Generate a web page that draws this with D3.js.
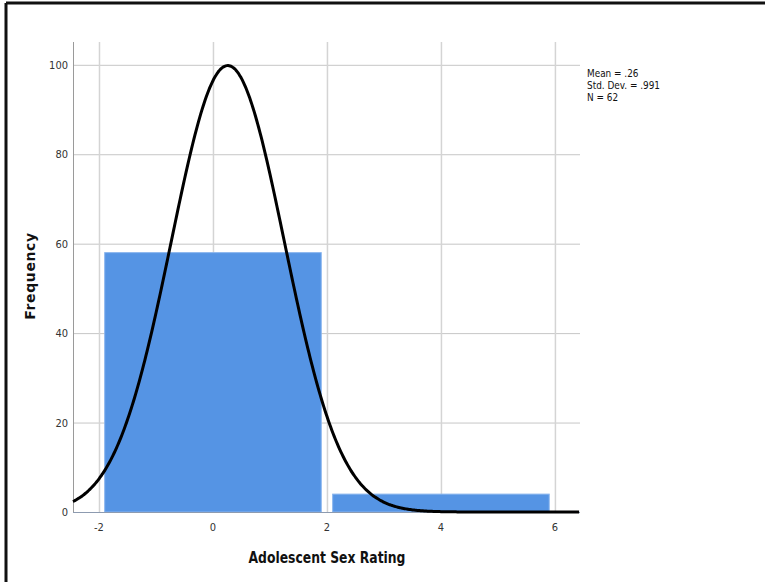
<!DOCTYPE html>
<html>
<head>
<meta charset="utf-8">
<script src="https://cdn.jsdelivr.net/npm/d3@7"></script>
<style>
  body { margin: 0; background: #fff; }
  svg { display: block; }
  .narrow { font-family: "DejaVu Sans Condensed", "Liberation Sans Narrow", sans-serif; font-stretch: condensed; }
</style>
</head>
<body>
<script>
// histogram bins (edges) and counts
const binStarts = [-2, 2];
const binEnds = [2, 6];
const binCounts = [58, 4];

const xTicks = [-2, 0, 2, 4, 6];
const yTicks = [0, 20, 40, 60, 80, 100];

const statLines = ["Mean = .26", "Std. Dev. = .991", "N = 62"];
const mean = 0.26, sd = 0.991, n = 62;

const width = 765, height = 582;
const margin = {top: 42, right: 185, bottom: 70, left: 73};

const svg = d3.select('body').append('svg')
    .attr('width', width)
    .attr('height', height);

// outer frame (only top and left edges are in view)
svg.append('line').attr('x1', 6).attr('x2', 6).attr('y1', 3).attr('y2', height)
    .style('stroke', '#111').style('stroke-width', 3);
svg.append('line').attr('x1', 6).attr('x2', width).attr('y1', 3).attr('y2', 3)
    .style('stroke', '#111').style('stroke-width', 3);

const x = d3.scaleLinear()
    .domain([-2.456, 6.44])
    .range([margin.left, width - margin.right]);

const y = d3.scaleLinear()
    .domain([0, 105.1])
    .range([height - margin.bottom, margin.top]);

const g = svg.append('g');

// grid
g.selectAll('line.hgrid')
    .data(yTicks)
  .enter().append('line')
    .attr('class', 'hgrid')
    .attr('x1', x.range()[0]).attr('x2', x.range()[1])
    .attr('y1', d => y(d) + 0.5).attr('y2', d => y(d) + 0.5)
    .style('stroke', '#c6c6c6').style('stroke-width', 1);

g.selectAll('line.vgrid')
    .data(xTicks)
  .enter().append('line')
    .attr('class', 'vgrid')
    .attr('x1', d => x(d) + 0.5).attr('x2', d => x(d) + 0.5)
    .attr('y1', y.range()[0]).attr('y2', y.range()[1])
    .style('stroke', '#d4d4d4').style('stroke-width', 1.5);

// bars
const gap = 0.1;
g.selectAll('rect.bar')
    .data(binCounts)
  .enter().append('rect')
    .attr('class', 'bar')
    .attr('x', (d, i) => x(binStarts[i] + gap))
    .attr('width', (d, i) => x(binEnds[i] - gap) - x(binStarts[i] + gap))
    .attr('y', d => y(d))
    .attr('height', d => y(0) - y(d))
    .style('fill', '#5594e4')
    .style('stroke', '#8ab5ee')
    .style('stroke-width', 1);

// axes lines
g.append('line')
    .attr('x1', x.range()[0] + 0.5).attr('x2', x.range()[0] + 0.5)
    .attr('y1', y.range()[1]).attr('y2', y.range()[0])
    .style('stroke', '#9a9a9a');
g.append('line')
    .attr('x1', x.range()[0]).attr('x2', x.range()[1])
    .attr('y1', y(0) + 0.5).attr('y2', y(0) + 0.5)
    .style('stroke', '#8d9bb0');

// tick labels
g.selectAll('text.ylab')
    .data(yTicks)
  .enter().append('text')
    .attr('class', 'narrow')
    .attr('x', x.range()[0] - 5)
    .attr('y', d => y(d) + 4)
    .attr('text-anchor', 'end')
    .style('font-size', '11px')
    .style('fill', '#333')
    .text(d => d);

g.selectAll('text.xlab')
    .data(xTicks)
  .enter().append('text')
    .attr('class', 'narrow')
    .attr('x', d => x(d))
    .attr('y', y(0) + 19)
    .attr('text-anchor', 'middle')
    .style('font-size', '11px')
    .style('fill', '#333')
    .text(d => d < 0 ? '-' + Math.abs(d) : d);

// fitted normal curve
const dens = v => n * (binEnds[0] - binStarts[0]) *
    Math.exp(-0.5 * Math.pow((v - mean) / sd, 2)) / (sd * Math.sqrt(2 * Math.PI));
const line = d3.line()
    .x(d => x(d))
    .y(d => y(dens(d)))
    .curve(d3.curveBasis);
g.append('path')
    .datum(d3.range(x.domain()[0], x.domain()[1] + 0.001, 0.02))
    .attr('d', line)
    .style('fill', 'none')
    .style('stroke', '#000')
    .style('stroke-width', 3);

// stats
svg.append('g')
    .attr('transform', 'translate(587,0) scale(0.9,1)')
  .selectAll('text')
    .data(statLines)
  .enter().append('text')
    .attr('class', 'narrow')
    .attr('x', 0)
    .attr('y', (d, i) => 77 + i * 12)
    .style('font-size', '11px')
    .style('fill', '#111')
    .text(d => d);

// axis titles
svg.append('text')
    .attr('class', 'narrow')
    .attr('transform', 'translate(327,563) scale(0.86,1)')
    .attr('text-anchor', 'middle')
    .style('font-size', '16px')
    .style('font-weight', 'bold')
    .style('fill', '#111')
    .text('Adolescent Sex Rating');

svg.append('text')
    .attr('transform', 'translate(35,276) rotate(-90)')
    .attr('text-anchor', 'middle')
    .style('font-family', '"DejaVu Sans", sans-serif')
    .style('font-size', '14px')
    .style('font-weight', 'bold')
    .style('letter-spacing', '0.6px')
    .style('fill', '#111')
    .text('Frequency');
</script>
</body>
</html>
